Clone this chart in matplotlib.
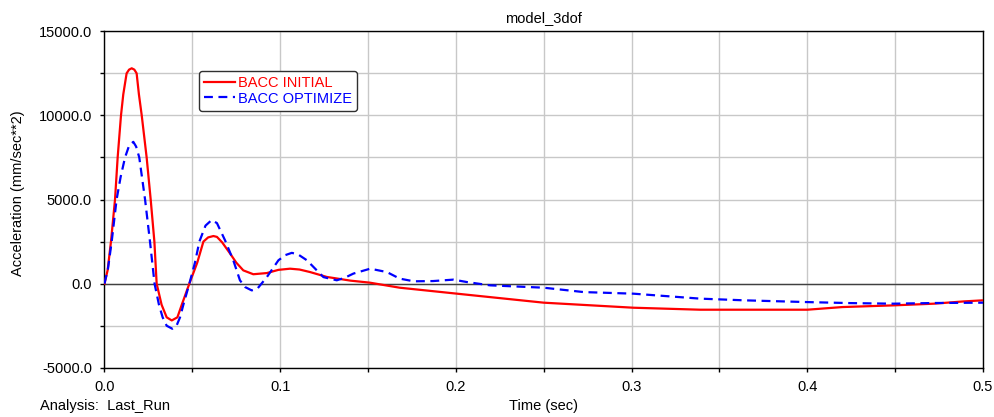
import matplotlib
matplotlib.use("Agg")
import matplotlib.pyplot as plt
from matplotlib.ticker import MultipleLocator, FormatStrFormatter

plt.rcParams['font.family'] = ['Liberation Sans', 'DejaVu Sans']

# BACC INITIAL (time in sec, acceleration in mm/sec**2)
t_initial = [0, 0.0018, 0.0037, 0.006, 0.0075, 0.0094, 0.0107, 0.0126, 0.014, 0.0155,
             0.017, 0.0183, 0.0196, 0.0212, 0.024, 0.0263, 0.0284, 0.0297, 0.0325, 0.0354,
             0.0383, 0.0415, 0.044, 0.0483, 0.0528, 0.0563, 0.059, 0.062, 0.064, 0.067,
             0.0715, 0.075, 0.079, 0.0847, 0.0924, 0.099, 0.1056, 0.111, 0.117, 0.1265,
             0.14, 0.151, 0.168, 0.2006, 0.25, 0.3011, 0.339, 0.40, 0.42, 0.449,
             0.472, 0.489, 0.5]
acc_initial = [0, 800, 2500, 5000, 7500, 10000, 11250, 12500, 12720, 12800,
               12720, 12500, 11250, 10000, 7500, 5000, 2500, 0, -1250, -2000,
               -2185, -2000, -1250, 0, 1250, 2500, 2750, 2830, 2780, 2450,
               1790, 1250, 790, 560, 630, 820, 890, 840, 690, 400,
               180, 60, -240, -595, -1130, -1430, -1548, -1548, -1390, -1290,
               -1190, -1055, -990]

# BACC OPTIMIZE
t_optimize = [0, 0.002, 0.0041, 0.0069, 0.0092, 0.0117, 0.014, 0.0164, 0.018, 0.0198,
              0.0231, 0.0259, 0.0285, 0.031, 0.0331, 0.0354, 0.0386, 0.041, 0.043, 0.0449,
              0.0483, 0.0515, 0.054, 0.0575, 0.061, 0.064, 0.0686, 0.0733, 0.0771, 0.080,
              0.0838, 0.087, 0.0924, 0.099, 0.103, 0.1066, 0.110, 0.1152, 0.1246, 0.1322,
              0.1367, 0.1417, 0.1512, 0.1607, 0.168, 0.176, 0.187, 0.1986, 0.2063, 0.2195,
              0.25, 0.2727, 0.301, 0.339, 0.364, 0.40, 0.4245, 0.449, 0.472, 0.5]
acc_optimize = [0, 900, 2500, 5000, 6345, 7500, 8200, 8430, 8150, 7500,
                5000, 2500, 0, -1250, -2000, -2500, -2680, -2500, -2000, -1250,
                0, 1250, 2500, 3450, 3780, 3600, 2580, 1390, 200, -200,
                -400, -300, 390, 1390, 1700, 1830, 1750, 1390, 390, 200,
                350, 600, 890, 690, 300, 140, 155, 240, 95, -100,
                -240, -500, -595, -890, -990, -1095, -1155, -1190, -1150, -1130]

x_ticks = [0.0, 0.1, 0.2, 0.3, 0.4, 0.5]
y_ticks = [-5000, 0, 5000, 10000, 15000]

fig = plt.figure(figsize=(9.95, 4.17), dpi=100)
ax = fig.add_axes([0.105, 0.118, 0.883, 0.807])

ax.plot(t_initial, acc_initial, color='#ff0000', lw=1.6, label='BACC INITIAL', zorder=3)
ax.plot(t_optimize, acc_optimize, color='#0000ff', lw=1.6, linestyle=(0, (4, 2.5)),
        label='BACC OPTIMIZE', zorder=3)

ax.set_xlim(0, 0.5)
ax.set_ylim(-5000, 15000)
ax.set_xticks(x_ticks)
ax.set_yticks(y_ticks)
ax.xaxis.set_minor_locator(MultipleLocator(0.05))
ax.yaxis.set_minor_locator(MultipleLocator(2500))
ax.xaxis.set_major_formatter(FormatStrFormatter('%.1f'))
ax.yaxis.set_major_formatter(FormatStrFormatter('%.1f'))
ax.set_axisbelow(True)
ax.grid(True, which='both', color='#c8c8c8', lw=1.0)
ax.axhline(0, color='#404040', lw=1.0, zorder=2)
ax.tick_params(which='both', direction='out', length=3, width=1, labelsize=10.5,
               colors='black', pad=6)
for s in ax.spines.values():
    s.set_color('black')
    s.set_linewidth(1.0)

ax.set_title('model_3dof', fontsize=10.5, pad=7)
fig.text(0.546, 0.026, 'Time (sec)', ha='center', va='center', fontsize=10.5)
fig.text(0.04, 0.026, 'Analysis:  Last_Run', ha='left', va='center', fontsize=10.5)
fig.text(0.018, 0.537, 'Acceleration (mm/sec**2)', rotation=90, ha='center',
         va='center', fontsize=10.5)

leg = ax.legend(loc='upper left', bbox_to_anchor=(0.1076, 0.882), borderaxespad=0,
                fontsize=10.5, handlelength=2.1, handletextpad=0.2, labelspacing=0.1,
                borderpad=0.35, framealpha=1, edgecolor='#303030', fancybox=True)
leg.get_frame().set_linewidth(1.0)
for txt, c in zip(leg.get_texts(), ['#ff0000', '#0000ff']):
    txt.set_color(c)

fig.savefig('out.png', dpi=100)
